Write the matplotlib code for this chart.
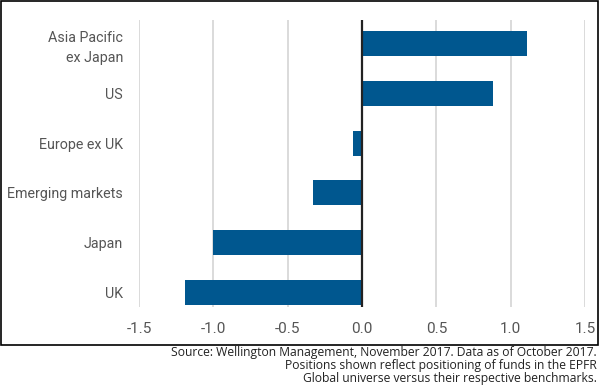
import matplotlib.pyplot as plt
from matplotlib.patches import Rectangle

regions = ['Asia Pacific\nex Japan', 'US', 'Europe ex UK', 'Emerging markets', 'Japan', 'UK']
positions = [1.11, 0.88, -0.06, -0.33, -1.0, -1.19]
xticks = [-1.5, -1.0, -0.5, 0.0, 0.5, 1.0, 1.5]
note = ('Source: Wellington Management, November 2017. Data as of October 2017.\n'
        'Positions shown reflect positioning of funds in the EPFR\n'
        'Global universe versus their respective benchmarks.')

plt.rcParams['font.family'] = ['Roboto', 'DejaVu Sans']


def main():
    fig = plt.figure(figsize=(6, 3.85), dpi=100)
    ax = fig.add_axes([139 / 600, 1 - 307 / 385, (585 - 139) / 600, (307 - 20) / 385])

    y = list(range(len(regions)))
    ax.barh(y, positions, height=0.5, color='#00578f', zorder=3)

    ax.set_xlim(-1.5, 1.5)
    ax.set_ylim(5.3, -0.48)
    ax.set_xticks(xticks)
    ax.set_xticklabels(['%.1f' % v for v in xticks])
    ax.set_yticks(y)
    ax.set_yticklabels(regions, linespacing=1.55)

    for v in xticks:
        if v != 0:
            ax.axvline(v, color='#d4d4d4', lw=1.2, zorder=1)
    ax.axvline(0, color='#222222', lw=1.6, zorder=4)

    for s in ax.spines.values():
        s.set_visible(False)
    ax.tick_params(axis='both', length=0, colors='#555555')
    ax.tick_params(axis='x', pad=11, labelsize=11)
    ax.tick_params(axis='y', pad=11.5, labelsize=10.3)

    fig.patches.append(Rectangle((1 / 600, 1 - 345 / 385), 597 / 600, 344 / 385,
                                 transform=fig.transFigure, fill=False,
                                 edgecolor='black', lw=1.2))
    fig.text(597 / 600, 1 - 346 / 385, note, ha='right', va='top',
             fontsize=8.75, color='#222222', linespacing=1.0, family='Open Sans')

    fig.savefig('out.png')


main()
